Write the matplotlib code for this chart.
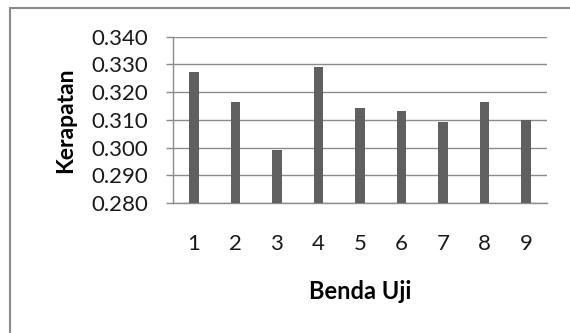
import matplotlib
matplotlib.use("Agg")
import matplotlib.pyplot as plt
from matplotlib.lines import Line2D

# Density of each test specimen
specimens = ["1", "2", "3", "4", "5", "6", "7", "8", "9"]
density = [0.3274, 0.3163, 0.2991, 0.3291, 0.3142, 0.3132, 0.3092, 0.3163, 0.3101]
y_ticks = [0.280, 0.290, 0.300, 0.310, 0.320, 0.330, 0.340]

plt.rcParams["font.family"] = ["Lato", "DejaVu Sans"]

W, H = 570, 333
fig = plt.figure(figsize=(W / 100, H / 100), dpi=100)
fig.patch.set_facecolor("white")

ax = fig.add_axes([173 / W, 1 - 203 / H, (547 - 173) / W, (203 - 36.7) / H])

x = range(len(specimens))
ax.bar(x, density, width=0.23, color="#606060", zorder=3, bottom=0)

ax.set_ylim(0.280, 0.340)
ax.set_xlim(-0.5, len(specimens) - 0.5)
ax.set_yticks(y_ticks)
ax.set_yticklabels([f"{v:.3f}" for v in y_ticks])
ax.set_xticks(list(x))
ax.set_xticklabels(specimens)

grid_color = "#8c8c8c"
ax.yaxis.grid(True, color=grid_color, linewidth=1.0, zorder=0)
ax.set_axisbelow(True)
for side in ("top", "right"):
    ax.spines[side].set_visible(False)
ax.spines["left"].set_color(grid_color)
ax.spines["bottom"].set_color(grid_color)
ax.spines["left"].set_linewidth(1.0)
ax.spines["bottom"].set_linewidth(1.0)

ax.tick_params(axis="y", length=5, width=1.0, color=grid_color, pad=13,
               labelsize=16, labelcolor="#1a1a1a")
ax.tick_params(axis="x", length=0, pad=22, labelsize=16, labelcolor="#1a1a1a")

ax.set_ylabel("Kerapatan", fontsize=16.5, fontweight="bold", labelpad=11)
ax.set_xlabel("Benda Uji", fontsize=17, fontweight="bold", labelpad=19)

# Outer chart frame
fig.add_artist(Line2D([10 / W, 10 / W], [1 - 8 / H, 0], color="#8a8a8a",
                      linewidth=1.5, transform=fig.transFigure))
fig.add_artist(Line2D([10 / W, 1], [1 - 8 / H, 1 - 8 / H], color="#8a8a8a",
                      linewidth=1.5, transform=fig.transFigure))

fig.savefig("out.png", dpi=100)
